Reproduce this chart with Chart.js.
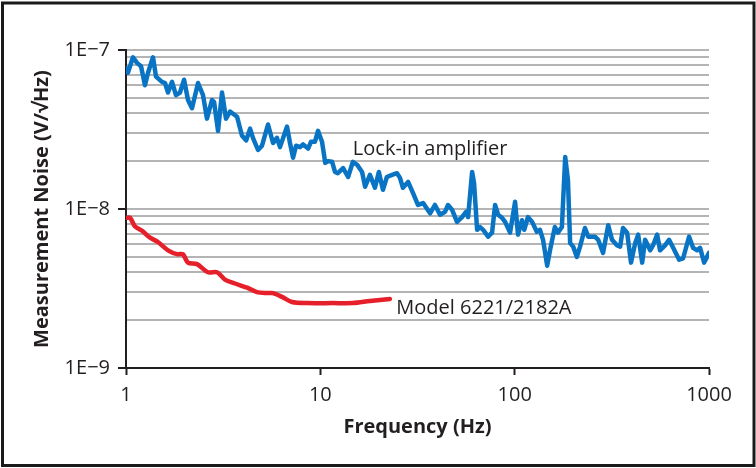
<!DOCTYPE html>
<html><head><meta charset="utf-8">
<script src="https://cdn.jsdelivr.net/npm/chart.js@4/dist/chart.umd.min.js"></script>
<style>html,body{margin:0;padding:0;background:#fff;}canvas{display:block;}</style>
</head><body>
<canvas id="c" width="756" height="468"></canvas>
<script>
// ---- Data ----
const lockinFreq = [1, 1.024, 1.086, 1.139, 1.195, 1.252, 1.298, 1.377, 1.427, 1.532, 1.588, 1.645, 1.725, 1.808, 1.896, 1.99, 2.085, 2.186, 2.348, 2.49, 2.61, 2.77, 2.84, 2.976, 3.12, 3.27, 3.43, 3.73, 3.95, 4.15, 4.35, 4.50, 4.78, 5.01, 5.38, 5.71, 5.98, 6.20, 6.74, 6.98, 7.24, 7.50, 7.86, 8.15, 8.65, 8.96, 9.39, 9.73, 10.2, 10.6, 10.95, 11.5, 11.9, 12.3, 13.1, 13.9, 14.7, 15.5, 16.4, 17.0, 18.0, 19.1, 20.0, 21.0, 22.0, 23.4, 24.8, 25.7, 26.6, 28.3, 30.0, 31.8, 33.8, 36.7, 38.9, 41.3, 43.8, 45.4, 47.6, 50.5, 53.6, 56.2, 57.6, 60.4, 61.8, 64.1, 66.4, 68.8, 73.0, 76.5, 79.3, 82.2, 86.1, 89.3, 94.7, 100.5, 104, 109, 112, 117, 123, 130, 135, 140, 147, 152, 161, 167, 175, 182, 188, 193, 200, 209, 217, 230, 239, 259, 269, 285, 303, 317, 337, 349, 361, 379, 397, 417, 432, 453, 469, 498, 515, 541, 560, 594, 623, 654, 702, 736, 790, 828, 869, 900, 944, 1000];
const lockinNoise = [7.7e-8, 7.2e-8, 9.0e-8, 8.3e-8, 7.9e-8, 6.0e-8, 7.2e-8, 9.0e-8, 6.8e-8, 6.3e-8, 6.2e-8, 5.4e-8, 6.3e-8, 5.2e-8, 5.4e-8, 6.5e-8, 4.85e-8, 4.3e-8, 6.2e-8, 5.2e-8, 3.7e-8, 4.85e-8, 4.7e-8, 3.1e-8, 5.4e-8, 3.7e-8, 4.1e-8, 3.8e-8, 2.9e-8, 2.7e-8, 3.2e-8, 2.8e-8, 2.35e-8, 2.5e-8, 3.4e-8, 2.6e-8, 2.8e-8, 2.45e-8, 3.3e-8, 2.6e-8, 2.1e-8, 2.5e-8, 2.45e-8, 2.55e-8, 2.4e-8, 2.65e-8, 2.65e-8, 3.1e-8, 2.65e-8, 1.95e-8, 2.0e-8, 1.98e-8, 1.71e-8, 1.68e-8, 1.81e-8, 1.59e-8, 1.98e-8, 1.89e-8, 1.71e-8, 1.38e-8, 1.64e-8, 1.36e-8, 1.71e-8, 1.32e-8, 1.59e-8, 1.64e-8, 1.68e-8, 1.57e-8, 1.36e-8, 1.48e-8, 1.26e-8, 1.06e-8, 1.09e-8, 9.4e-9, 1.06e-8, 9.2e-9, 9.6e-9, 1.06e-8, 9.9e-9, 8.3e-9, 8.9e-9, 9.6e-9, 8.9e-9, 1.71e-8, 1.46e-8, 7.4e-9, 7.7e-9, 7.4e-9, 6.7e-9, 7.1e-9, 1.06e-8, 9.2e-9, 8.8e-9, 8.3e-9, 7.1e-9, 1.11e-8, 6.9e-9, 8.5e-9, 7.4e-9, 8.9e-9, 8.3e-9, 7.2e-9, 7.4e-9, 6.4e-9, 4.4e-9, 5.5e-9, 7.7e-9, 7.1e-9, 7.7e-9, 2.12e-8, 1.52e-8, 6.1e-9, 5.8e-9, 5.0e-9, 5.8e-9, 7.6e-9, 6.7e-9, 6.7e-9, 6.4e-9, 5.3e-9, 7.9e-9, 6.4e-9, 5.9e-9, 5.8e-9, 7.6e-9, 7.1e-9, 4.6e-9, 6.1e-9, 6.9e-9, 4.6e-9, 6.4e-9, 5.5e-9, 5.9e-9, 6.9e-9, 5.5e-9, 5.9e-9, 6.4e-9, 5.7e-9, 4.8e-9, 4.9e-9, 6.7e-9, 5.7e-9, 5.5e-9, 5.7e-9, 4.6e-9, 5.3e-9];
const modelFreq = [1, 1.05, 1.11, 1.21, 1.33, 1.46, 1.645, 1.83, 1.96, 2.085, 2.32, 2.64, 2.94, 3.23, 3.64, 4.20, 4.72, 5.32, 5.71, 6.35, 7.15, 8.54, 11.6, 14.7, 18.0, 22.8];
const modelNoise = [8.8e-9, 8.8e-9, 7.8e-9, 7.3e-9, 6.6e-9, 6.2e-9, 5.5e-9, 5.2e-9, 5.2e-9, 4.6e-9, 4.5e-9, 4.0e-9, 4.0e-9, 3.6e-9, 3.4e-9, 3.2e-9, 3.0e-9, 2.96e-9, 2.96e-9, 2.8e-9, 2.6e-9, 2.56e-9, 2.56e-9, 2.56e-9, 2.64e-9, 2.72e-9];

const xTickValues = [1, 10, 100, 1000];
const xTickLabels = ['1', '10', '100', '1000'];
const yTickValues = [1e-9, 1e-8, 1e-7];
const yTickLabels = ['1E\u22129', '1E\u22128', '1E\u22127'];

const seriesNames = ['Lock-in amplifier', 'Model 6221/2182A'];
const labelFreq = [14.7, 24.6];
const labelNoise = [2.38e-8, 2.38e-9];

const xTitle = 'Frequency (Hz)';
const yTitle = 'Measurement Noise (V/\u221AHz)';

// ---- helpers ----
const TXT = '#231f20';
const FONT = 'Open Sans';
function majorIndex(v) {
  for (let i = 0; i < yTickValues.length; i++) if (Math.abs(v / yTickValues[i] - 1) < 1e-6) return i;
  return -1;
}

const framePlugin = {
  id: 'frame',
  beforeDraw(chart) {
    const c = chart.ctx; c.save(); c.fillStyle = '#fff'; c.fillRect(0, 0, chart.width, chart.height); c.restore();
  },
  afterDatasetsDraw(chart) {
    const c = chart.ctx, sx = chart.scales.x, sy = chart.scales.y;
    c.save();
    c.font = '20px "' + FONT + '"';
    c.fillStyle = TXT; c.textAlign = 'left'; c.textBaseline = 'middle';
    seriesNames.forEach((t, i) => c.fillText(t, sx.getPixelForValue(labelFreq[i]), sy.getPixelForValue(labelNoise[i])));
    c.restore();
  },
  afterDraw(chart) {
    const c = chart.ctx; c.save();
    c.strokeStyle = '#1a1a1a'; c.lineWidth = 3;
    c.strokeRect(2.5, 3, chart.width - 4.5, chart.height - 5.5);
    c.restore();
  }
};

new Chart(document.getElementById('c'), {
  type: 'line',
  data: {
    datasets: [
      { label: seriesNames[0], data: lockinFreq.map((f, i) => ({ x: f, y: lockinNoise[i] })),
        borderColor: '#0a74c4', borderWidth: 4.5, pointRadius: 0, tension: 0, borderJoinStyle: 'round', borderCapStyle: 'round', fill: false },
      { label: seriesNames[1], data: modelFreq.map((f, i) => ({ x: f, y: modelNoise[i] })),
        borderColor: '#e6202a', borderWidth: 4.5, pointRadius: 0, tension: 0.3, borderJoinStyle: 'round', borderCapStyle: 'round', fill: false }
    ]
  },
  options: {
    responsive: false, animation: false, devicePixelRatio: 1,
    layout: { padding: { left: 0, top: 50, right: 47, bottom: 0 } },
    plugins: { legend: { display: false }, tooltip: { enabled: false } },
    scales: {
      x: {
        type: 'logarithmic', min: 1, max: 1000, position: 'bottom',
        afterBuildTicks: s => { s.ticks = xTickValues.map(v => ({ value: v })); },
        afterFit: s => { s.height = 100; },
        grid: { drawOnChartArea: false, drawTicks: true, tickLength: 7, tickColor: TXT, tickWidth: 2, color: TXT },
        border: { display: true, color: TXT, width: 2 },
        ticks: { autoSkip: false, maxRotation: 0, padding: 8, color: TXT, font: { family: FONT, size: 20 },
          callback: (v, i) => xTickLabels[i] },
        title: { display: true, text: xTitle, color: TXT, font: { family: FONT, size: 20, weight: 'bold' }, padding: { top: 0, bottom: 29 } }
      },
      y: {
        type: 'logarithmic', min: 1e-9, max: 1e-7, position: 'left',
        afterBuildTicks: s => {
          const t = [];
          for (let d = 0; d < yTickValues.length - 1; d++)
            for (let m = 1; m <= 9; m++) t.push({ value: m * yTickValues[d] });
          t.push({ value: yTickValues[yTickValues.length - 1] });
          s.ticks = t;
        },
        afterFit: s => { s.width = 126; },
        grid: { drawOnChartArea: true, drawTicks: true, tickLength: 8, lineWidth: 2, color: '#b4b4b4',
          tickColor: ctx => majorIndex(ctx.tick.value) >= 0 ? TXT : 'rgba(0,0,0,0)', tickWidth: 2 },
        border: { display: true, color: TXT, width: 2 },
        ticks: { autoSkip: false, padding: 8, color: TXT, font: { family: FONT, size: 20 },
          callback: v => { const i = majorIndex(v); return i >= 0 ? yTickLabels[i] : ''; } },
        title: { display: true, text: yTitle, color: TXT, font: { family: FONT, size: 20, weight: 'bold' }, padding: { top: 30, bottom: 0 } }
      }
    }
  },
  plugins: [framePlugin]
});
</script>
</body></html>
